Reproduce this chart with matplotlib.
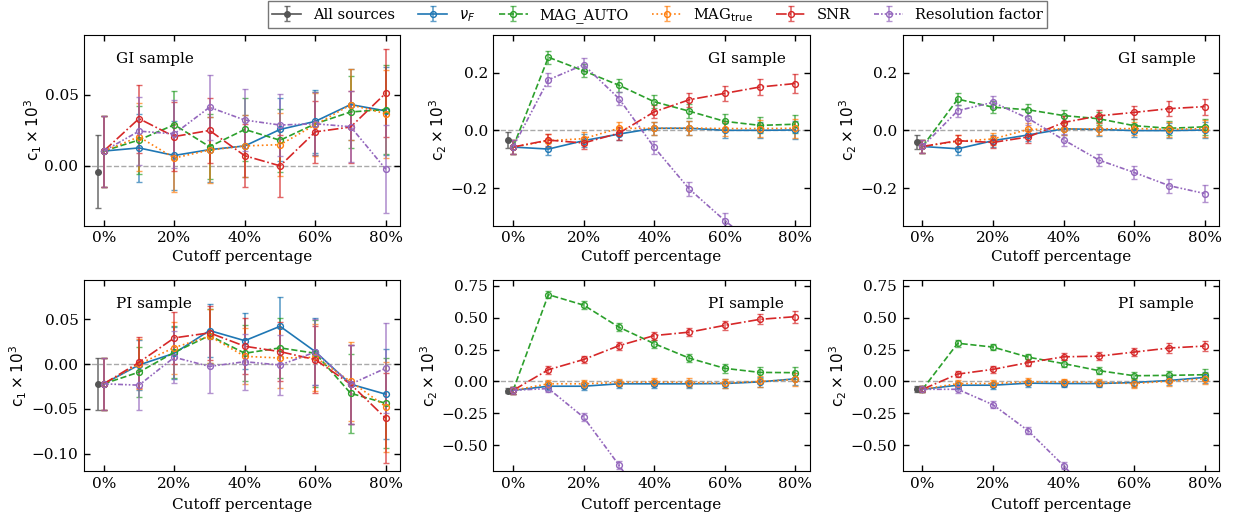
import numpy as np
import matplotlib
matplotlib.use('Agg')
import matplotlib.pyplot as plt
from matplotlib.ticker import MultipleLocator, FuncFormatter

plt.rcParams['font.family'] = 'DejaVu Serif'
plt.rcParams['mathtext.fontset'] = 'dejavusans'
plt.rcParams['font.size'] = 10

# ---------------- data ----------------
cutoffs = [0, 10, 20, 30, 40, 50, 60, 70, 80]
all_x = -1.5
xtick_vals = [0, 20, 40, 60, 80]
xtick_labels = ['0%', '20%', '40%', '60%', '80%']

series_labels = [r'$\nu_F$', 'MAG_AUTO', r'MAG$_{\rm true}$', 'SNR', 'Resolution factor']

# Panel 1: c1, GI sample
p1_all = (-0.004, 0.0257)
p1_err = [0.025, 0.024, 0.024, 0.023, 0.022, 0.022, 0.022, 0.025, 0.031]
p1_nuF = [0.0104, 0.0126, 0.0073, 0.0114, 0.0140, 0.0256, 0.0313, 0.0431, 0.0386]
p1_mag_auto = [0.0104, 0.0182, 0.0289, 0.0135, 0.0256, 0.0180, 0.0296, 0.0379, 0.0396]
p1_mag_true = [0.0104, 0.0204, 0.0055, 0.0111, 0.0140, 0.0149, 0.0289, 0.0429, 0.0367]
p1_snr = [0.0104, 0.0332, 0.0206, 0.0249, 0.0071, 0.0000, 0.0239, 0.0273, 0.0512]
p1_res = [0.0104, 0.0244, 0.0225, 0.0412, 0.0322, 0.0287, 0.0296, 0.0275, -0.0024]

# Panel 2: c2, GI sample (middle)
p2_all = (-0.033, 0.027)
p2_err = [0.025, 0.022, 0.022, 0.022, 0.023, 0.024, 0.025, 0.028, 0.032]
p2_nuF = [-0.058, -0.065, -0.036, -0.013, 0.007, 0.007, 0.000, 0.000, 0.001]
p2_mag_auto = [-0.058, 0.253, 0.206, 0.156, 0.099, 0.066, 0.031, 0.017, 0.021]
p2_mag_true = [-0.058, -0.036, -0.029, 0.007, 0.007, 0.008, 0.006, 0.006, 0.007]
p2_snr = [-0.058, -0.034, -0.044, -0.010, 0.064, 0.106, 0.128, 0.150, 0.162]
p2_res = [-0.058, 0.175, 0.227, 0.110, -0.059, -0.204, -0.3125, -0.41, -0.50]

# Panel 3: c2, GI sample (right)
p3_all = (-0.041, 0.023)
p3_err = [0.022, 0.021, 0.021, 0.021, 0.021, 0.022, 0.023, 0.025, 0.028]
p3_nuF = [-0.056, -0.064, -0.036, -0.016, 0.005, 0.003, -0.001, -0.001, 0.001]
p3_mag_auto = [-0.056, 0.108, 0.080, 0.071, 0.051, 0.040, 0.016, 0.007, 0.012]
p3_mag_true = [-0.056, -0.038, -0.030, 0.003, 0.005, 0.005, 0.006, 0.003, 0.006]
p3_snr = [-0.056, -0.036, -0.042, -0.023, 0.027, 0.050, 0.062, 0.075, 0.082]
p3_res = [-0.056, 0.068, 0.097, 0.041, -0.033, -0.103, -0.146, -0.192, -0.219]

# Panel 4: c1, PI sample
p4_all = (-0.022, 0.029)
p4_err = [0.029, 0.028, 0.029, 0.030, 0.031, 0.033, 0.037, 0.044, 0.050]
p4_nuF = [-0.022, -0.001, 0.012, 0.0373, 0.026, 0.042, 0.0138, -0.0224, -0.0336]
p4_mag_auto = [-0.022, -0.009, 0.013, 0.0317, 0.012, 0.018, 0.012, -0.0325, -0.0437]
p4_mag_true = [-0.022, 0.000, 0.0183, 0.031, 0.0086, 0.0067, 0.0075, -0.0194, -0.0474]
p4_snr = [-0.022, 0.0019, 0.0291, 0.0347, 0.0198, 0.0138, 0.0049, -0.0224, -0.0604]
p4_res = [-0.022, -0.0235, 0.0075, -0.0026, 0.0026, -0.0011, 0.0134, -0.0224, -0.0045]

# Panel 5: c2, PI sample (middle)
p5_all = (-0.071, 0.022)
p5_err = [0.025, 0.030, 0.030, 0.030, 0.031, 0.033, 0.036, 0.040, 0.048]
p5_nuF = [-0.069, -0.037, -0.037, -0.018, -0.018, -0.018, -0.016, -0.003, 0.021]
p5_mag_auto = [-0.069, 0.679, 0.597, 0.425, 0.296, 0.182, 0.103, 0.071, 0.069]
p5_mag_true = [-0.069, -0.018, -0.018, -0.008, -0.005, -0.008, -0.013, 0.000, 0.016]
p5_snr = [-0.069, 0.092, 0.172, 0.280, 0.359, 0.386, 0.439, 0.486, 0.507]
p5_res = [-0.069, -0.055, -0.280, -0.653, -1.05, -1.40, -1.70, -2.00, -2.25]

# Panel 6: c2, PI sample (right)
p6_all = (-0.061, 0.022)
p6_err = [0.022, 0.026, 0.026, 0.027, 0.028, 0.029, 0.032, 0.036, 0.042]
p6_nuF = [-0.061, -0.029, -0.029, -0.013, -0.016, -0.016, -0.008, 0.008, 0.032]
p6_mag_auto = [-0.061, 0.299, 0.269, 0.190, 0.140, 0.085, 0.045, 0.048, 0.053]
p6_mag_true = [-0.061, -0.016, -0.016, -0.003, -0.005, -0.008, -0.016, 0.003, 0.021]
p6_snr = [-0.061, 0.058, 0.095, 0.148, 0.193, 0.198, 0.230, 0.262, 0.277]
p6_res = [-0.061, -0.061, -0.182, -0.386, -0.658, -0.95, -1.20, -1.45, -1.70]

# ---------------- style ----------------
colors = ['#1f77b4', '#2ca02c', '#ff7f0e', '#d62728', '#9467bd']
linestyles = ['-', '--', ':', '-.', (0, (3, 1.2, 1, 1.2, 1, 1.2))]
all_color = '#555555'

panels = [
    dict(all=p1_all, err=p1_err, series=[p1_nuF, p1_mag_auto, p1_mag_true, p1_snr, p1_res],
         ylim=(-0.042, 0.092), step=0.05, fmt='%.2f', ylabel=r'$\mathrm{c}_1\times10^3$',
         text='GI sample', tx=0.10, lpad=0.5),
    dict(all=p2_all, err=p2_err, series=[p2_nuF, p2_mag_auto, p2_mag_true, p2_snr, p2_res],
         ylim=(-0.33, 0.33), step=0.2, fmt='%.1f', ylabel=r'$\mathrm{c}_2\times10^3$',
         text='GI sample', tx=0.68, lpad=1.0),
    dict(all=p3_all, err=p3_err, series=[p3_nuF, p3_mag_auto, p3_mag_true, p3_snr, p3_res],
         ylim=(-0.33, 0.33), step=0.2, fmt='%.1f', ylabel=r'$\mathrm{c}_2\times10^3$',
         text='GI sample', tx=0.68, lpad=1.0),
    dict(all=p4_all, err=p4_err, series=[p4_nuF, p4_mag_auto, p4_mag_true, p4_snr, p4_res],
         ylim=(-0.119, 0.093), step=0.05, fmt='%.2f', ylabel=r'$\mathrm{c}_1\times10^3$',
         text='PI sample', tx=0.10, lpad=2.0),
    dict(all=p5_all, err=p5_err, series=[p5_nuF, p5_mag_auto, p5_mag_true, p5_snr, p5_res],
         ylim=(-0.70, 0.79), step=0.25, fmt='%.2f', ylabel=r'$\mathrm{c}_2\times10^3$',
         text='PI sample', tx=0.68, lpad=1.0),
    dict(all=p6_all, err=p6_err, series=[p6_nuF, p6_mag_auto, p6_mag_true, p6_snr, p6_res],
         ylim=(-0.70, 0.79), step=0.25, fmt='%.2f', ylabel=r'$\mathrm{c}_2\times10^3$',
         text='PI sample', tx=0.68, lpad=1.0),
]

fig, axes = plt.subplots(2, 3, figsize=(12.44, 5.18), dpi=100)
fig.subplots_adjust(left=0.0675, right=0.980, top=0.9324, bottom=0.0907,
                    wspace=0.294, hspace=0.288)


def make_fmt(f):
    def _f(v, pos):
        if abs(v) < 1e-12:
            v = 0.0
        return (f % v).replace('-', '\u2212')
    return FuncFormatter(_f)


handles = []
for i, (ax, p) in enumerate(zip(axes.flat, panels)):
    ax.axhline(0, color='darkgray', ls='--', lw=1, zorder=0)
    h_all = ax.errorbar([all_x], [p['all'][0]], yerr=[p['all'][1]], color=all_color,
                        marker='o', ms=4, capsize=2.5, lw=1.2, elinewidth=1.2)
    for c in list(h_all[1]) + list(h_all[2]):
        c.set_alpha(0.8)
    hs = [h_all]
    for vals, col, ls in zip(p['series'], colors, linestyles):
        h = ax.errorbar(cutoffs, vals, yerr=p['err'], color=col, ls=ls, lw=1.2,
                        marker='o', ms=4.2, mfc='none', mew=1.0,
                        capsize=2.5, elinewidth=1.2)
        for c in list(h[1]) + list(h[2]):
            c.set_alpha(0.7)
        hs.append(h)
    if i == 0:
        handles = hs
    ax.set_xlim(-5.6, 84.1)
    ax.set_ylim(*p['ylim'])
    ax.yaxis.set_major_locator(MultipleLocator(p['step']))
    ax.yaxis.set_major_formatter(make_fmt(p['fmt']))
    ax.set_xticks(xtick_vals)
    ax.set_xticklabels(xtick_labels)
    ax.tick_params(direction='in', top=True, right=True, labelsize=11, length=4.5, width=1,
                   pad=4)
    ax.set_xlabel('Cutoff percentage', fontsize=11, labelpad=3.5 if i < 3 else 5)
    ax.set_ylabel(p['ylabel'], fontsize=11, labelpad=p['lpad'])
    ax.text(p['tx'], 0.875, p['text'], transform=ax.transAxes, va='center', ha='left',
            fontsize=11)

labels = ['All sources'] + series_labels
leg = fig.legend(handles, labels, loc='upper center', bbox_to_anchor=(0.5286, 1.0),
                 ncol=6, fontsize=10.5, frameon=True, fancybox=False, edgecolor='#555555',
                 borderaxespad=0.1, handlelength=2.0, columnspacing=1.6, borderpad=0.3,
                 handletextpad=0.8)
leg.get_frame().set_linewidth(1.0)

fig.savefig('out.png', dpi=100)
